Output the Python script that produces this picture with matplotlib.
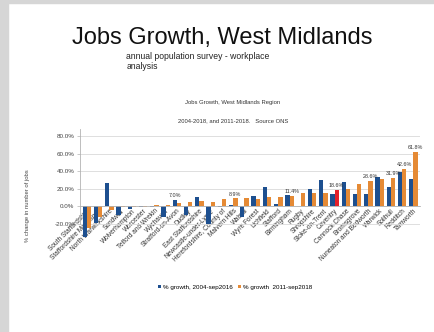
import matplotlib.pyplot as plt
import matplotlib.patches as mpatches
import numpy as np

plt.rcParams['font.family'] = ['Liberation Sans', 'DejaVu Sans']

districts = ["South Staffordshire", "Staffordshire Moorlands", "North Warwickshire",
             "Sandwell", "Wolverhampton", "Worcester", "Telford and Wrekin", "Wychavon",
             "Stratford-on-Avon", "Dudley", "East Staffordshire", "Newcastle-under-Lyme",
             "Herefordshire, County of", "Malvern Hills", "Walsall", "Wyre Forest",
             "Lichfield", "Stafford", "Birmingham", "Rugby", "Shropshire", "Stoke-on-Trent",
             "Coventry", "Cannock Chase", "Bromsgrove", "Nuneaton and Bedworth", "Warwick",
             "Solihull", "Redditch", "Tamworth"]

growth_2004 = [-35.0, -19.0, 26.0, -10.0, -3.0, -1.5, -1.5, -12.0, 7.0, -10.0,
               10.6, -20.0, -1.0, 1.5, -12.0, 12.0, 22.0, 2.0, 12.5, 0.0,
               19.0, 29.5, 13.6, 27.6, 13.6, 13.6, 33.0, 22.0, 39.0, 31.4]

growth_2011 = [-25.0, -12.0, -5.0, -1.0, -1.5, -1.0, 1.0, 1.5, 3.0, 5.0,
               5.7, 5.0, 7.6, 8.9, 8.7, 8.0, 10.0, 10.6, 11.4, 15.0,
               15.0, 15.5, 18.6, 20.0, 25.7, 28.6, 30.7, 31.9, 42.6, 61.8]

# value labels shown on a few bars: (series, index)
labelled = [(0, 8), (1, 13), (1, 18), (1, 22), (1, 25), (1, 27), (1, 28), (1, 29)]
highlight = "Coventry"

blue = "#1d4f8f"
orange = "#e58a35"
red = "#e3202b"

fig = plt.figure(figsize=(4.35, 3.32), dpi=100)

# slide frame
fig.patches.append(mpatches.Rectangle((0, 0), 8 / 435, 1, transform=fig.transFigure,
                                      color="#d6d6d6", zorder=0))
fig.patches.append(mpatches.Rectangle((0, 1 - 3 / 332), 1, 3 / 332, transform=fig.transFigure,
                                      color="#d6d6d6", zorder=0))

fig.text(0.51, 0.885, "Jobs Growth, West Midlands", ha="center", va="center",
         fontsize=17, color="#111111")
fig.text(0.29, 0.815, "annual population survey - workplace\nanalysis", ha="left",
         va="center", fontsize=6.2, color="#222222", linespacing=1.1)
fig.text(0.535, 0.69, "Jobs Growth, West Midlands Region", ha="center", va="center",
         fontsize=4.2, color="#333333")
fig.text(0.535, 0.637, "2004-2018, and 2011-2018.   Source ONS", ha="center", va="center",
         fontsize=4.2, color="#333333")

ax = fig.add_axes([0.184, 0.274, 0.782, 0.337])
x = np.arange(len(districts))
w = 0.38
b1 = ax.bar(x - w / 2, growth_2004, w, color=blue, label="% growth, 2004-sep2016", zorder=2)
c2 = [red if d == highlight else orange for d in districts]
b2 = ax.bar(x + w / 2, growth_2011, w, color=c2, label="% growth  2011-sep2018", zorder=2)

for s, i in labelled:
    v = (growth_2004 if s == 0 else growth_2011)[i]
    xo = x[i] - w / 2 if s == 0 else x[i] + w / 2
    ax.text(xo, v + 2, f"{v:.1f}%", ha="center", va="bottom", fontsize=3.9, color="#333333")

ax.set_xlim(-0.6, len(districts) - 0.4)
ax.set_ylim(-40, 88)
ax.set_yticks([-20, 0, 20, 40, 60, 80])
ax.set_yticklabels([f"{t:.1f}%" for t in [-20, 0, 20, 40, 60, 80]], fontsize=4.5, color="#444444")
ax.yaxis.grid(True, color="#d9d9d9", linewidth=0.6, zorder=0)
ax.set_axisbelow(True)

ax.spines["bottom"].set_position(("data", 0))
ax.spines["bottom"].set_color("#b3b3b3")
ax.spines["bottom"].set_linewidth(0.6)
ax.spines["left"].set_color("#b3b3b3")
ax.spines["left"].set_linewidth(0.6)
ax.spines["left"].set_bounds(-20, 88)
ax.spines["top"].set_visible(False)
ax.spines["right"].set_visible(False)
ax.tick_params(axis="y", length=2, width=0.5, color="#b3b3b3", pad=2)
ax.tick_params(axis="x", length=0, pad=1)
ax.set_xticks(x)
ax.set_xticklabels(districts, rotation=45, ha="right", rotation_mode="anchor",
                   fontsize=4.7, color="#333333")

fig.text(0.063, 0.38, "% change in number of jobs", rotation=90, ha="center", va="center",
         fontsize=4.2, color="#444444")

fig.legend(handles=[b1, b2], loc="center", bbox_to_anchor=(0.54, 0.135), ncol=2,
           frameon=False, fontsize=4.5, handlelength=0.5, handleheight=0.5,
           handletextpad=0.3, columnspacing=0.8)

fig.savefig("out.png", dpi=100)
